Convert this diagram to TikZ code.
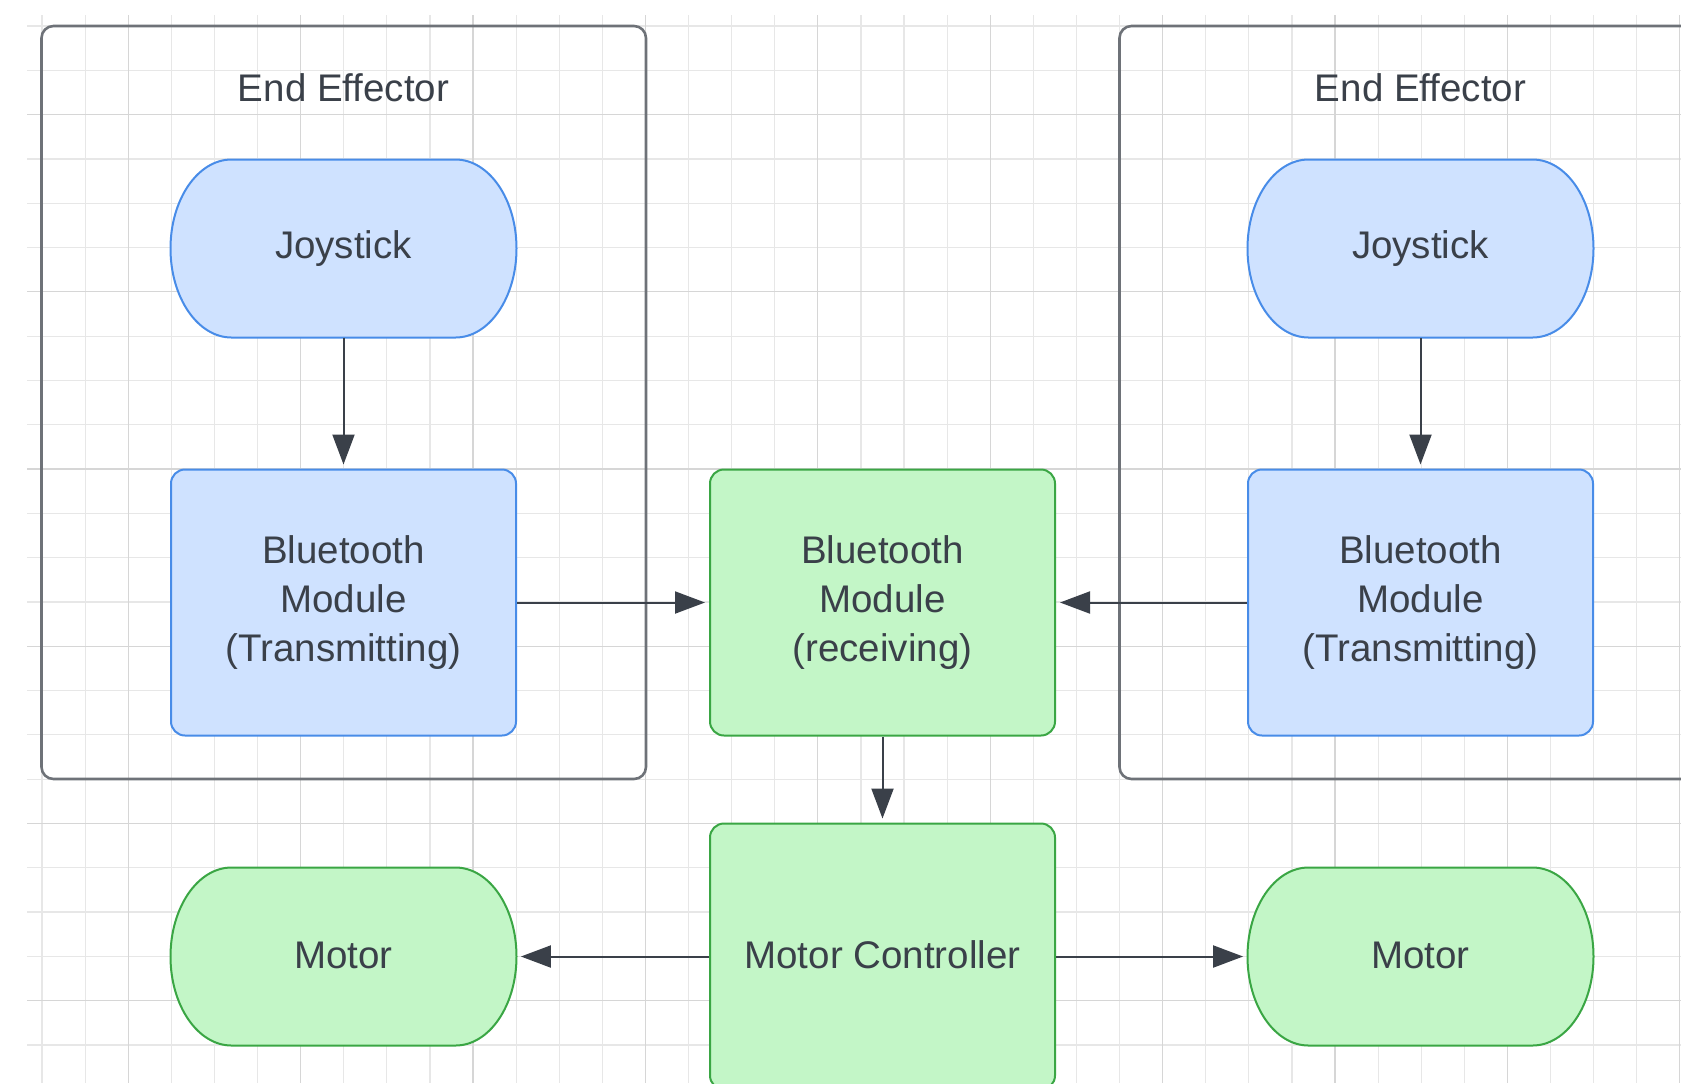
\documentclass[tikz,border=0pt]{standalone}
\usepackage{fontspec}
\setmainfont{Liberation Sans}
\usetikzlibrary{positioning, calc, arrows.meta}
\definecolor{JoyBlue}{RGB}{207, 226, 255}
\definecolor{JoyEdge}{RGB}{72, 140, 232}
\definecolor{MotGreen}{RGB}{195, 246, 199}
\definecolor{MotEdge}{RGB}{58, 166, 68}
\definecolor{FrameGray}{RGB}{110, 114, 120}
\definecolor{InkDark}{RGB}{58, 64, 73}
\definecolor{gridMinor}{RGB}{231, 231, 231}
\definecolor{gridMajor}{RGB}{214, 214, 214}

% ellipse-ended terminal, drawn under its text node
\newcommand{\pillshape}[3]{%
  \filldraw[fill=#2, draw=#3, line width=1pt]
    ($(#1)+(-56,44.5)$) -- ++(112,0)
    arc[start angle=90, end angle=-90, x radius=30.5, y radius=44.5]
    -- ++(-112,0)
    arc[start angle=270, end angle=90, x radius=30.5, y radius=44.5] -- cycle;}

\begin{document}
\begin{tikzpicture}[x=1pt, y=1pt,
    gridline/.style={line width=0.6pt, gridMinor},
    gridbold/.style={line width=0.6pt, gridMajor},
    frame/.style={draw=FrameGray, line width=1.3pt, rounded corners=6pt},
    title/.style={font=\fontsize{19.25pt}{24pt}\selectfont, text=InkDark},
    pill/.style={minimum width=173pt, minimum height=89pt, inner sep=0pt,
                 font=\fontsize{19.25pt}{24.4pt}\selectfont, text=InkDark},
    box/.style={draw, rounded corners=7pt, line width=1pt, minimum width=172.5pt,
                minimum height=133pt, align=center, text=InkDark,
                font=\fontsize{19.25pt}{24.4pt}\selectfont},
    arr/.style={-{Triangle[length=15pt, width=11pt]}, line width=1pt, InkDark,
                shorten >=2pt}
  ]
  \clip (0,0) rectangle (840.5,-541.5);
  \fill[white] (0,0) rectangle (840.5,-541.5);

  % background grid
  \foreach \k in {0,...,38}
    \draw[gridline] ({21+21.55*\k},-7.5) -- ({21+21.55*\k},-541.5);
  \foreach \k in {0,...,23}
    \draw[gridline] (13.5,{-13-22.15*\k}) -- (840.5,{-13-22.15*\k});
  \foreach \k in {2,6,...,38}
    \draw[gridbold] ({21+21.55*\k},-7.5) -- ({21+21.55*\k},-541.5);
  \foreach \k in {2,6,...,22}
    \draw[gridbold] (13.5,{-13-22.15*\k}) -- (840.5,{-13-22.15*\k});

  % end effector groups
  \draw[frame] (20.75,-13) rectangle (323,-389.5);
  \draw[frame] (559.75,-13) rectangle (880,-389.5);
  \node[title] (effA) at (171.75,-44) {End Effector};
  \node[title] (effB) at (710.25,-44) {End Effector};

  \pillshape{171.75,-124.25}{JoyBlue}{JoyEdge}
  \pillshape{710.25,-124.25}{JoyBlue}{JoyEdge}
  \pillshape{171.75,-478.25}{MotGreen}{MotEdge}
  \pillshape{710.25,-478.25}{MotGreen}{MotEdge}

  \node[pill] (joyA) at (171.75,-124.25) {\raisebox{1pt}{Joystick}};
  \node[pill] (joyB) at (710.25,-124.25) {\raisebox{1pt}{Joystick}};
  \node[pill] (motA) at (171.75,-478.25) {\raisebox{1.5pt}{Motor}};
  \node[pill] (motB) at (710.25,-478.25) {\raisebox{1.5pt}{Motor}};

  \node[box, fill=JoyBlue, draw=JoyEdge]
        (btA)  at (171.75,-301.25) {Bluetooth\\Module\\(Transmitting)};
  \node[box, fill=JoyBlue, draw=JoyEdge]
        (btB)  at (710.25,-301.25) {Bluetooth\\Module\\(Transmitting)};
  \node[box, fill=MotGreen, draw=MotEdge]
        (btRx) at (441.25,-301.25) {Bluetooth\\Module\\(receiving)};
  \node[box, fill=MotGreen, draw=MotEdge]
        (ctrl) at (441.25,-478.25) {\raisebox{2pt}{Motor Controller}};

  \draw[arr] (joyA) -- (btA);
  \draw[arr] (joyB) -- (btB);
  \draw[arr] (btA)  -- (btRx);
  \draw[arr] (btB)  -- (btRx);
  \draw[arr] (btRx) -- (ctrl);
  \draw[arr] (ctrl) -- (motA);
  \draw[arr] (ctrl) -- (motB);
\end{tikzpicture}
\end{document}
